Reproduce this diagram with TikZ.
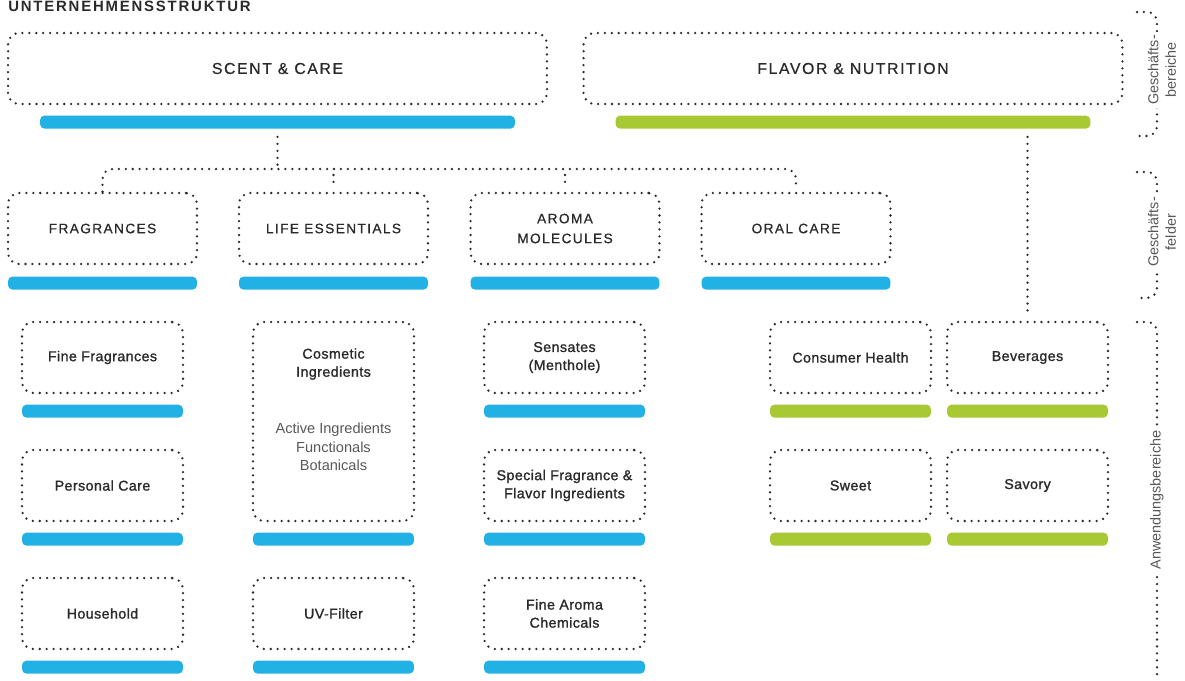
\documentclass[tikz,border=0pt]{standalone}
\usepackage{fontspec}
\setmainfont{Liberation Sans}
\newfontfamily\capsfont[LetterSpace=10, FakeBold=0.6]{Liberation Sans}
\newfontfamily\appfont[LetterSpace=3, FakeBold=1.3]{Liberation Sans}
\newfontfamily\titlefont[LetterSpace=12]{Liberation Sans}
\usepackage{xcolor}
\usepackage{tikz}
\usetikzlibrary{positioning,calc}

\definecolor{symblue}{HTML}{22B1E4}
\definecolor{symgreen}{HTML}{A9C934}
\definecolor{inkgray}{HTML}{2A2A2A}
\definecolor{softgray}{HTML}{585858}

\tikzset{
  dotline/.style={draw=inkgray, line width=1.45pt, line cap=round, dash pattern=on 0pt off 3.95pt},
  unitbox/.style={dotline, rounded corners=0.22cm, minimum height=1.42cm, align=center, text=inkgray, inner sep=0pt},
  areabox/.style={unitbox, minimum width=10.78cm, font=\capsfont\fontsize{9}{11}\selectfont},
  fieldbox/.style={unitbox, minimum width=3.78cm, font=\capsfont\fontsize{7.8}{11.3}\selectfont},
  appbox/.style={unitbox, minimum width=3.22cm, font=\appfont\fontsize{8.1}{10.3}\selectfont},
  bluebar/.style={fill=symblue, rounded corners=0.09cm, minimum height=0.26cm, inner sep=0pt},
  greenbar/.style={fill=symgreen, rounded corners=0.09cm, minimum height=0.26cm, inner sep=0pt},
  sidelabel/.style={rotate=90, align=center, text=softgray, fill=white, inner sep=2pt, font=\fontsize{8.2}{10}\selectfont}
}

\begin{document}
\begin{tikzpicture}[x=0.02cm, y=-0.02cm]
    \useasboundingbox (0,0) rectangle (1185,680);

    \node [anchor=base west, inner sep=0pt, text=inkgray, font=\titlefont\bfseries\fontsize{8.5}{10}\selectfont] (title) at (8,11) {UNTERNEHMENSSTRUKTUR};

    % Geschaeftsbereiche
    \node [areabox] (scent) at (277.5,68.5) {SCENT \& CARE};
    \node [areabox] (flavor) at (853,68.5) {FLAVOR \& NUTRITION};
    \node [bluebar, minimum width=9.5cm, below=0.2cm of scent] (scbar) {};
    \node [greenbar, minimum width=9.5cm, below=0.2cm of flavor] (fnbar) {};

    % Geschaeftsfelder
    \node [fieldbox] (frag) at (102.5,228.5) {FRAGRANCES};
    \node [fieldbox] (life) at (333.5,228.5) {LIFE ESSENTIALS};
    \node [fieldbox] (aroma) at (565,228.5) {AROMA\\MOLECULES};
    \node [fieldbox] (oral) at (796,228.5) {ORAL CARE};
    \foreach \f in {frag,life,aroma,oral}
        \node [bluebar, minimum width=3.78cm, below=0.22cm of \f] (\f bar) {};

    % Anwendungsbereiche
    \node [appbox] (finefrag) at (102.5,357.5) {Fine Fragrances};
    \node [appbox] (pcare) at (102.5,485.5) {Personal Care};
    \node [appbox] (house) at (102.5,613.5) {Household};
    \node [appbox, minimum height=3.98cm] (cosm) at (333.5,421.5) {};
    \node [appbox, minimum height=0pt, draw=none] (cosmtitle) at (333.5,364) {Cosmetic\\Ingredients};
    \node [align=center, text=softgray, inner sep=0pt, font=\fontsize{8.3}{10.4}\selectfont] (cosmlist) at (333.5,447) {Active Ingredients\\Functionals\\Botanicals};
    \node [appbox] (uv) at (333.5,613.5) {UV-Filter};
    \node [appbox] (sens) at (564.5,357.5) {Sensates\\(Menthole)};
    \node [appbox] (special) at (564.5,485.5) {Special Fragrance \&\\Flavor Ingredients};
    \node [appbox] (finearoma) at (564.5,613.5) {Fine Aroma\\Chemicals};
    \foreach \a in {finefrag,pcare,house,cosm,uv,sens,special,finearoma}
        \node [bluebar, minimum width=3.22cm, below=0.2cm of \a] (\a bar) {};

    \node [appbox] (health) at (850.5,357.5) {Consumer Health};
    \node [appbox] (bev) at (1027.5,357.5) {Beverages};
    \node [appbox] (sweet) at (850.5,485.5) {Sweet};
    \node [appbox] (savory) at (1027.5,485.5) {Savory};
    \foreach \a in {health,bev,sweet,savory}
        \node [greenbar, minimum width=3.22cm, below=0.2cm of \a] (\a bar) {};

    % connectors
    \coordinate (hub) at (277.5,169);
    \draw [dotline, shorten <=0.16cm] (scbar.south) -- (hub);
    \draw [dotline, rounded corners=0.2cm, shorten >=0.06cm] (frag.north) |- (hub) -| (oral.north);
    \draw [dotline, shorten <=0.12cm, shorten >=0.06cm] (life.north |- hub) -- (life.north);
    \draw [dotline, shorten <=0.12cm, shorten >=0.06cm] (aroma.north |- hub) -- (aroma.north);
    \draw [dotline, shorten <=0.16cm, shorten >=0.14cm] (bev.north |- fnbar.south) -- (bev.north);

    % levels on the right
    \draw [dotline, rounded corners=0.2cm] (1137,12) -| (1157,74) |- (1137,136);
    \node [sidelabel] (lvlarea) at (1162,70) {Geschäfts-\\bereiche};
    \draw [dotline, rounded corners=0.2cm] (1137,172) -| (1157,235) |- (1137,298);
    \node [sidelabel] (lvlfield) at (1162,232) {Geschäfts-\\felder};
    \draw [dotline, rounded corners=0.2cm] (1137,322) -| (1157,680);
    \node [sidelabel] (lvlapp) at (1157,500) {Anwendungsbereiche};
\end{tikzpicture}
\end{document}
